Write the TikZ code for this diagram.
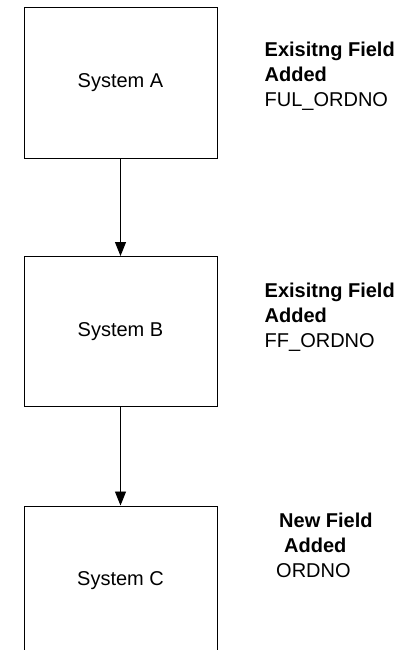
\documentclass[tikz,border=0pt]{standalone}
\usepackage{fontspec}
\setmainfont{Liberation Sans}
\usetikzlibrary{arrows.meta}
\begin{document}
\begin{tikzpicture}[x=1pt, y=-1pt,
        sysbox/.style={draw, line width=1pt, minimum width=193pt, minimum height=150pt, inner sep=0pt, font=\fontsize{20}{25}\selectfont},
        fieldnote/.style={anchor=north west, inner sep=0pt, align=left, font=\fontsize{20}{25}\selectfont},
        flow/.style={line width=0.9pt, -{Triangle[length=14pt, width=11pt]}}]
        \useasboundingbox (0,0) rectangle (409,650);
        \clip (0,0) rectangle (409,650);
        \node[sysbox] (sysA) at (120.5,83) {System A};
        \node[sysbox] (sysB) at (120.5,331.5) {System B};
        \node[sysbox] (sysC) at (120.5,581) {System C};
        \draw[flow] (sysA) -- (sysB);
        \draw[flow] (sysB) -- (sysC);
        \node[fieldnote] (noteA) at (264.5,42) {\textbf{Exisitng Field}\\\textbf{Added}\\FUL\_ORDNO};
        \node[fieldnote] (noteB) at (264.5,283) {\textbf{Exisitng Field}\\\textbf{Added}\\FF\_ORDNO};
        \node[fieldnote] (noteC) at (276,513) {\hspace*{3pt}\textbf{New Field}\\\hspace*{8pt}\textbf{Added}\\ORDNO};
    \end{tikzpicture}
\end{document}
